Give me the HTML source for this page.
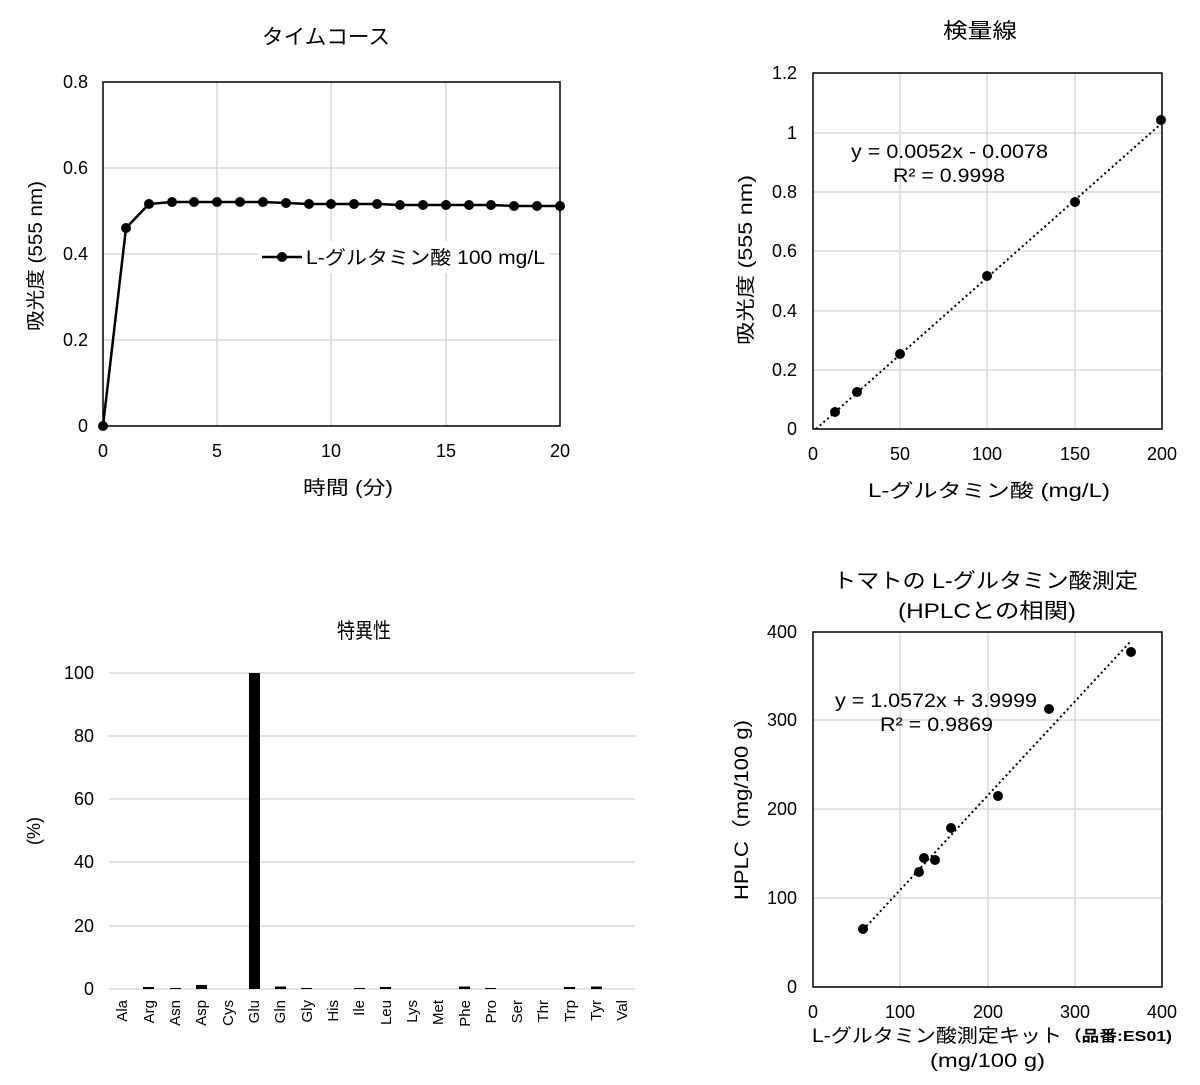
<!DOCTYPE html>
<html><head><meta charset="utf-8"><style>
body{margin:0;background:#fff}
text{font-family:"Liberation Sans","Noto Sans CJK JP",sans-serif;fill:#000}
</style></head><body>
<svg width="1200" height="1080" viewBox="0 0 1200 1080" xmlns="http://www.w3.org/2000/svg">
<!-- Chart 1 -->
<text x="326" y="44" font-size="21" text-anchor="middle" textLength="128" lengthAdjust="spacingAndGlyphs">タイムコース</text>
<g stroke="#d9d9d9" stroke-width="1.5">
<line x1="103" y1="168" x2="560" y2="168"/><line x1="103" y1="254" x2="560" y2="254"/><line x1="103" y1="340" x2="560" y2="340"/>
<line x1="217" y1="82" x2="217" y2="426"/><line x1="331" y1="82" x2="331" y2="426"/><line x1="446" y1="82" x2="446" y2="426"/>
</g>
<rect x="103" y="82" width="457" height="344" fill="none" stroke="#000" stroke-width="1.5"/>
<g font-size="18">
<text x="88" y="88" text-anchor="end">0.8</text><text x="88" y="174" text-anchor="end">0.6</text><text x="88" y="260" text-anchor="end">0.4</text><text x="88" y="346" text-anchor="end">0.2</text><text x="88" y="432" text-anchor="end">0</text>
<text x="103" y="457" text-anchor="middle">0</text><text x="217" y="457" text-anchor="middle">5</text><text x="331" y="457" text-anchor="middle">10</text><text x="446" y="457" text-anchor="middle">15</text><text x="560" y="457" text-anchor="middle">20</text>
</g>
<text x="303" y="494" font-size="19" textLength="90" lengthAdjust="spacingAndGlyphs">時間 (分)</text>
<text transform="translate(42,256) rotate(-90)" font-size="19" text-anchor="middle" textLength="150" lengthAdjust="spacingAndGlyphs">吸光度 (555 nm)</text>
<polyline fill="none" stroke="#000" stroke-width="2.5" points="103,426 126,228 149,204 172,202 194,202 217,202 240,202 263,202 286,203 309,204 331,204 354,204 377,204 400,205 423,205 446,205 469,205 491,205 514,206 537,206 560,206"/>
<g fill="#000">
<circle cx="103" cy="426" r="5"/><circle cx="126" cy="228" r="5"/><circle cx="149" cy="204" r="5"/><circle cx="172" cy="202" r="5"/><circle cx="194" cy="202" r="5"/><circle cx="217" cy="202" r="5"/><circle cx="240" cy="202" r="5"/><circle cx="263" cy="202" r="5"/><circle cx="286" cy="203" r="5"/><circle cx="309" cy="204" r="5"/><circle cx="331" cy="204" r="5"/><circle cx="354" cy="204" r="5"/><circle cx="377" cy="204" r="5"/><circle cx="400" cy="205" r="5"/><circle cx="423" cy="205" r="5"/><circle cx="446" cy="205" r="5"/><circle cx="469" cy="205" r="5"/><circle cx="491" cy="205" r="5"/><circle cx="514" cy="206" r="5"/><circle cx="537" cy="206" r="5"/><circle cx="560" cy="206" r="5"/>
</g>
<rect x="258" y="241" width="292" height="32" fill="#fff"/>
<line x1="262" y1="257" x2="302" y2="257" stroke="#000" stroke-width="2.5"/><circle cx="282" cy="257" r="5"/>
<text x="306" y="264" font-size="19" textLength="239" lengthAdjust="spacingAndGlyphs">L-グルタミン酸 100 mg/L</text>

<!-- Chart 2 -->
<text x="980" y="38" font-size="21" text-anchor="middle" textLength="74" lengthAdjust="spacingAndGlyphs">検量線</text>
<g stroke="#d9d9d9" stroke-width="1.5">
<line x1="813" y1="133" x2="1162" y2="133"/><line x1="813" y1="192" x2="1162" y2="192"/><line x1="813" y1="251" x2="1162" y2="251"/><line x1="813" y1="311" x2="1162" y2="311"/><line x1="813" y1="370" x2="1162" y2="370"/>
<line x1="900" y1="73" x2="900" y2="429"/><line x1="987" y1="73" x2="987" y2="429"/><line x1="1075" y1="73" x2="1075" y2="429"/>
</g>
<rect x="813" y="73" width="349" height="356" fill="none" stroke="#000" stroke-width="1.5"/>
<g font-size="18">
<text x="797" y="79" text-anchor="end">1.2</text><text x="797" y="139" text-anchor="end">1</text><text x="797" y="198" text-anchor="end">0.8</text><text x="797" y="257" text-anchor="end">0.6</text><text x="797" y="317" text-anchor="end">0.4</text><text x="797" y="376" text-anchor="end">0.2</text><text x="797" y="435" text-anchor="end">0</text>
<text x="813" y="460" text-anchor="middle">0</text><text x="900" y="460" text-anchor="middle">50</text><text x="987" y="460" text-anchor="middle">100</text><text x="1075" y="460" text-anchor="middle">150</text><text x="1162" y="460" text-anchor="middle">200</text>
</g>
<text x="868" y="497" font-size="19" textLength="242" lengthAdjust="spacingAndGlyphs">L-グルタミン酸 (mg/L)</text>
<text transform="translate(752,260) rotate(-90)" font-size="19" text-anchor="middle" textLength="170" lengthAdjust="spacingAndGlyphs">吸光度 (555 nm)</text>
<line x1="816" y1="429" x2="1162" y2="123" stroke="#000" stroke-width="2" stroke-dasharray="2,3"/>
<g fill="#000"><circle cx="835" cy="412" r="5"/><circle cx="857" cy="392" r="5"/><circle cx="900" cy="354" r="5"/><circle cx="987" cy="276" r="5"/><circle cx="1075" cy="202" r="5"/><circle cx="1161" cy="120" r="5"/></g>
<text x="851" y="158" font-size="19" textLength="197" lengthAdjust="spacingAndGlyphs">y = 0.0052x - 0.0078</text>
<text x="893" y="182" font-size="19" textLength="112" lengthAdjust="spacingAndGlyphs">R² = 0.9998</text>

<!-- Chart 3 -->
<text x="364" y="638" font-size="21" text-anchor="middle" textLength="54" lengthAdjust="spacingAndGlyphs">特異性</text>
<g stroke="#d9d9d9" stroke-width="1.5">
<line x1="109" y1="673" x2="635" y2="673"/><line x1="109" y1="736" x2="635" y2="736"/><line x1="109" y1="799" x2="635" y2="799"/><line x1="109" y1="862" x2="635" y2="862"/><line x1="109" y1="926" x2="635" y2="926"/>
<line x1="109" y1="989" x2="635" y2="989"/>
</g>
<g font-size="18">
<text x="94" y="679" text-anchor="end">100</text><text x="94" y="742" text-anchor="end">80</text><text x="94" y="805" text-anchor="end">60</text><text x="94" y="868" text-anchor="end">40</text><text x="94" y="932" text-anchor="end">20</text><text x="94" y="995" text-anchor="end">0</text>
</g>
<text transform="translate(40,831) rotate(-90)" font-size="18" text-anchor="middle">(%)</text>
<g fill="#000">
<rect x="143" y="987" width="11" height="2"/><rect x="170" y="988" width="11" height="1"/><rect x="196" y="985" width="11" height="4"/>
<rect x="249" y="673" width="11" height="316"/><rect x="275" y="986.5" width="11" height="2.5"/><rect x="301" y="988" width="11" height="1"/>
<rect x="354" y="988" width="11" height="1"/><rect x="380" y="987" width="11" height="2"/><rect x="459" y="986.5" width="11" height="2.5"/><rect x="485" y="988" width="11" height="1"/>
<rect x="564" y="987" width="11" height="2"/><rect x="591" y="986.5" width="11" height="2.5"/>
</g>
<g font-size="15" text-anchor="end">
<text transform="translate(127,1000) rotate(-90)">Ala</text><text transform="translate(154,1000) rotate(-90)">Arg</text><text transform="translate(180,1000) rotate(-90)">Asn</text><text transform="translate(206,1000) rotate(-90)">Asp</text><text transform="translate(233,1000) rotate(-90)">Cys</text><text transform="translate(259,1000) rotate(-90)">Glu</text><text transform="translate(285,1000) rotate(-90)">Gln</text><text transform="translate(312,1000) rotate(-90)">Gly</text><text transform="translate(338,1000) rotate(-90)">His</text><text transform="translate(364,1000) rotate(-90)">Ile</text><text transform="translate(391,1000) rotate(-90)">Leu</text><text transform="translate(417,1000) rotate(-90)">Lys</text><text transform="translate(443,1000) rotate(-90)">Met</text><text transform="translate(470,1000) rotate(-90)">Phe</text><text transform="translate(496,1000) rotate(-90)">Pro</text><text transform="translate(522,1000) rotate(-90)">Ser</text><text transform="translate(548,1000) rotate(-90)">Thr</text><text transform="translate(575,1000) rotate(-90)">Trp</text><text transform="translate(601,1000) rotate(-90)">Tyr</text><text transform="translate(627,1000) rotate(-90)">Val</text>
</g>

<!-- Chart 4 -->
<text x="833" y="588" font-size="21" textLength="305" lengthAdjust="spacingAndGlyphs">トマトの L-グルタミン酸測定</text>
<text x="898" y="618" font-size="21" textLength="178" lengthAdjust="spacingAndGlyphs">(HPLCとの相関)</text>
<g stroke="#d9d9d9" stroke-width="1.5">
<line x1="813" y1="720" x2="1162" y2="720"/><line x1="813" y1="809" x2="1162" y2="809"/><line x1="813" y1="898" x2="1162" y2="898"/>
<line x1="900" y1="632" x2="900" y2="987"/><line x1="988" y1="632" x2="988" y2="987"/><line x1="1075" y1="632" x2="1075" y2="987"/>
</g>
<rect x="813" y="632" width="349" height="355" fill="none" stroke="#000" stroke-width="1.5"/>
<g font-size="18">
<text x="797" y="638" text-anchor="end">400</text><text x="797" y="726" text-anchor="end">300</text><text x="797" y="815" text-anchor="end">200</text><text x="797" y="904" text-anchor="end">100</text><text x="797" y="993" text-anchor="end">0</text>
<text x="813" y="1018" text-anchor="middle">0</text><text x="900" y="1018" text-anchor="middle">100</text><text x="988" y="1018" text-anchor="middle">200</text><text x="1075" y="1018" text-anchor="middle">300</text><text x="1162" y="1018" text-anchor="middle">400</text>
</g>
<text x="812" y="1042" font-size="19" textLength="250" lengthAdjust="spacingAndGlyphs">L-グルタミン酸測定キット</text>
<text x="1064" y="1041" font-size="15" font-weight="bold" textLength="108" lengthAdjust="spacingAndGlyphs">（品番:ES01)</text>
<text x="930" y="1067" font-size="19" textLength="115" lengthAdjust="spacingAndGlyphs">(mg/100 g)</text>
<text transform="translate(748,810) rotate(-90)" font-size="19" text-anchor="middle" textLength="180" lengthAdjust="spacingAndGlyphs">HPLC（mg/100 g)</text>
<line x1="863" y1="930" x2="1131" y2="641" stroke="#000" stroke-width="2" stroke-dasharray="2,3"/>
<g fill="#000"><circle cx="863" cy="929" r="5"/><circle cx="919" cy="872" r="5"/><circle cx="924" cy="858" r="5"/><circle cx="935" cy="860" r="5"/><circle cx="951" cy="828" r="5"/><circle cx="998" cy="796" r="5"/><circle cx="1049" cy="709" r="5"/><circle cx="1131" cy="652" r="5"/></g>
<text x="835" y="707" font-size="19" textLength="202" lengthAdjust="spacingAndGlyphs">y = 1.0572x + 3.9999</text>
<text x="880" y="731" font-size="19" textLength="113" lengthAdjust="spacingAndGlyphs">R² = 0.9869</text>
</svg>
</body></html>
